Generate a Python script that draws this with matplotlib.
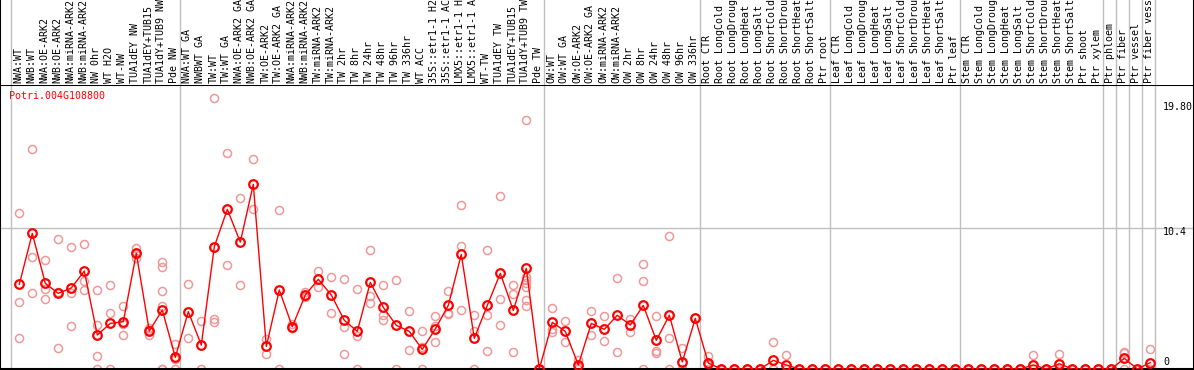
import numpy as np
import matplotlib
matplotlib.use("Agg")
import matplotlib.pyplot as plt

gene = "Potri.004G108800"

labels = [
    # NW
    "NWA:WT", "NWB:WT", "NWA:OE-ARK2", "NWB:OE-ARK2", "NWA:miRNA-ARK2",
    "NWB:miRNA-ARK2", "NW 0hr", "WT H2O", "WT-NW", "TUA1dEY NW",
    "TUA1dEY+TUB15 NW", "TUA1dY+TUB9 NW", "Pde NW",
    # TW
    "NWA:WT GA", "NWBWT GA", "TW:WT", "TW:WT GA", "NWA:OE-ARK2 GA",
    "NWB:OE-ARK2 GA", "TW:OE-ARK2", "TW:OE-ARK2 GA", "NWA:miRNA-ARK2 GA",
    "NWB:miRNA-ARK2 GA", "TW:miRNA-ARK2", "TW:miRNA-ARK2 GA", "TW 2hr",
    "TW 8hr", "TW 24hr", "TW 48hr", "TW 96hr", "TW 336hr", "WT ACC",
    "35S::etr1-1 H2O", "35S::etr1-1 ACC", "LMX5::etr1-1 H2O",
    "LMX5::etr1-1 ACC", "WT-TW", "TUA1dEY TW", "TUA1dEY+TUB15 TW",
    "TUA1dY+TUB9 TW", "Pde TW",
    # OW
    "OW:WT", "OW:WT GA", "OW:OE-ARK2", "OW:OE-ARK2 GA", "OW:miRNA-ARK2",
    "OW:miRNA-ARK2 GA", "OW 2hr", "OW 8hr", "OW 24hr", "OW 48hr", "OW 96hr",
    "OW 336hr",
    # Root
    "Root CTR", "Root LongCold", "Root LongDrought", "Root LongHeat",
    "Root LongSalt", "Root ShortCold", "Root ShortDrought", "Root ShortHeat",
    "Root ShortSalt", "Ptr root",
    # Leaf
    "Leaf CTR", "Leaf LongCold", "Leaf LongDrought", "Leaf LongHeat",
    "Leaf LongSalt", "Leaf ShortCold", "Leaf ShortDrought", "Leaf ShortHeat",
    "Leaf ShortSalt", "Ptr leaf",
    # Stem
    "Stem CTR", "Stem LongCold", "Stem LongDrought", "Stem LongHeat",
    "Stem LongSalt", "Stem ShortCold", "Stem ShortDrought", "Stem ShortHeat",
    "Stem ShortSalt", "Ptr shoot", "Ptr xylem",
    # single tissues
    "Ptr phloem", "Ptr fiber", "Ptr vessel", "Ptr fiber vessel",
]

group_sizes = [13, 28, 12, 10, 10, 11, 1, 1, 1, 1]

means = [
    6.26, 10.02, 6.33, 5.59, 5.99, 7.24, 2.51, 3.37, 3.50, 8.55,
    2.81, 4.36, 0.86,
    4.24, 1.77, 9.04, 11.80, 9.38, 13.65, 1.67, 5.84, 3.13, 5.47,
    6.63, 5.47, 3.60, 2.78, 6.40, 4.56, 3.23, 2.78, 1.45, 2.96,
    4.70, 8.47, 2.27, 4.70, 7.07, 4.33, 7.44, 0.0,
    3.45, 2.78, 0.30, 3.37, 2.93, 3.97, 3.25, 4.70, 2.12, 3.97,
    0.52, 3.74,
    0.44, 0, 0, 0, 0, 0.64, 0.30, 0, 0, 0,
    0, 0, 0, 0, 0, 0, 0, 0, 0, 0,
    0, 0, 0, 0, 0, 0.30, 0, 0.39, 0, 0, 0,
    0, 0.79, 0, 0.47,
]

replicates = [
    [11.5, 4.93, 2.27], [16.23, 8.25, 5.59], [8.03, 5.89, 5.15],
    [9.58, 5.66, 1.53], [9.04, 5.59, 3.15], [9.21, 6.53, 5.84],
    [5.84, 3.25, 0.96, 0], [6.18, 4.11, 0], [4.66, 3.33, 2.51],
    [8.92, 8.5, 8.23], [3.0, 2.9, 2.51], [7.93, 7.56, 5.76, 4.66, 0, 0],
    [1.82, 0.77, 0],
    [6.26, 2.27], [3.55, 0], [20.0, 3.67, 3.45], [16.0, 7.66],
    [12.64, 6.18], [15.49, 11.80], [2.22, 1.08], [11.72, 0],
    [3.3, 3.05, 3.05], [5.67, 5.42, 5.32], [7.22, 6.08], [6.77, 4.16],
    [6.63, 3.08, 1.08], [5.91, 2.46, 0], [8.77, 5.42, 4.90],
    [6.18, 3.99, 3.60], [6.55, 0], [4.26, 1.38], [2.78, 1.65, 0],
    [3.92, 3.15, 1.97], [5.74, 4.16, 4.09], [12.09, 9.06, 4.33],
    [3.99, 2.78, 0], [8.77, 3.99, 1.31], [12.76, 5.15, 3.23],
    [6.18, 5.52, 1.23], [18.37, 6.82, 6.58, 6.33, 6.08, 5.10, 4.68],
    [0, 0],
    [4.48, 2.93, 2.76], [3.52, 2.0], [0.67, 0.2, 0], [4.26, 2.49],
    [3.89, 2.04], [6.70, 1.23], [3.67, 2.76], [7.73, 6.48, 0],
    [3.89, 1.35, 1.21], [9.80, 2.29, 0], [1.53, 0, 0], [3.74],
    [0.96, 0.3, 0], [0, 0, 0], [0, 0, 0], [0, 0, 0], [0, 0, 0],
    [2.0, 0, 0], [1.01, 0, 0], [0, 0, 0], [0, 0, 0], [0, 0, 0],
    [0, 0, 0], [0, 0, 0], [0, 0, 0], [0, 0, 0], [0, 0, 0],
    [0, 0, 0], [0, 0, 0], [0, 0, 0], [0, 0, 0], [0, 0, 0],
    [0, 0, 0], [0, 0, 0], [0, 0, 0], [0, 0, 0], [0, 0, 0],
    [1.03, 0, 0], [0, 0, 0], [1.11, 0, 0], [0, 0, 0], [0, 0, 0],
    [0, 0, 0],
    [0, 0], [1.28, 1.16, 0], [0, 0], [1.45, 0, 0],
]

ytick_vals = [19.80, 10.4, 0]
ytick_text = ["19.80", "10.4", "0"]

W, H = 1194, 370
GRAY = "#c0c0c0"
PINK = "#f09898"
FONT = dict(family="DejaVu Sans Mono", size=7.2)
MAXCH = 14  # the header strip only has room for ~14 characters


def rect(x0, y0, x1, y1):
    # pixel box -> figure fraction
    return [x0 / W, 1 - y1 / H, (x1 - x0) / W, (y1 - y0) / H]


fig = plt.figure(figsize=(W / 100, H / 100), dpi=100)
ax = fig.add_axes(rect(0, 85, W, 369))
lab = fig.add_axes(rect(0, 0, W, 85), sharex=ax)

step = 13.0
ax.set_xlim(-19.3 / step, (W - 19.3) / step)
ax.set_ylim(0, 284 / 13.53)
lab.set_ylim(0, 85)

for a in (ax, lab):
    a.set_xticks([])
    a.set_yticks([])
    for s in a.spines.values():
        s.set_linewidth(1.5)
lab.spines["top"].set_visible(False)
lab.spines["bottom"].set_visible(False)

# group separators
starts = np.concatenate([[0], np.cumsum(group_sizes)])
for b in starts:
    ax.axvline(b - 8 / step, color=GRAY, lw=1.0, zorder=1)
    lab.axvline(b - 8 / step, color=GRAY, lw=1.0, zorder=1)
ax.axhline(10.4, color=GRAY, lw=1.0, zorder=1)

x = np.arange(len(labels))
rx = np.concatenate([[i] * len(r) for i, r in enumerate(replicates)])
ry = np.concatenate(replicates)
ax.plot(rx, ry, "o", ms=5.8, mfc="none", mec=PINK, mew=1.1, zorder=2)
ax.plot(x, means, "-", color="red", lw=1.0, zorder=3)
ax.plot(x, means, "o", ms=6.2, mfc="none", mec="red", mew=1.6, zorder=4)

for i, t in enumerate(labels):
    lab.text(i - 1 / step, 2, t[:MAXCH].rstrip(), rotation=90, ha="center",
             va="bottom", **FONT)

ax.annotate(gene, xy=(0, 1), xycoords="axes fraction", xytext=(9, -11),
            textcoords="offset pixels", va="center", ha="left", color="red",
            **FONT)

offsets = [-6, -3.7, 7.3]
for v, t, dy in zip(ytick_vals, ytick_text, offsets):
    ax.annotate(t, xy=(1, v), xycoords=("axes fraction", "data"),
                xytext=(-31, dy), textcoords="offset pixels",
                va="center", ha="left", **FONT)

fig.savefig("out.png", dpi=100)
